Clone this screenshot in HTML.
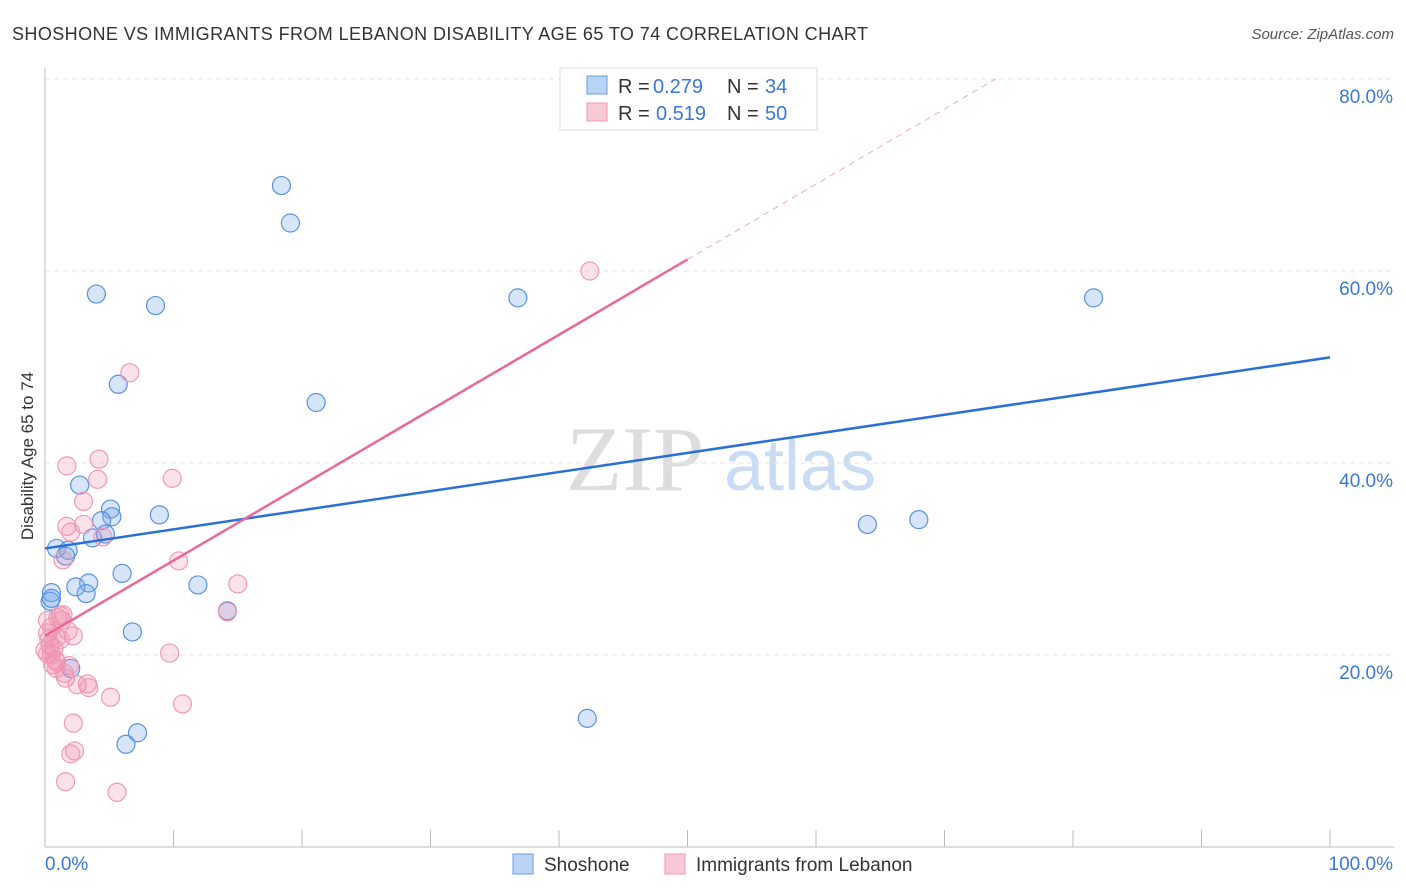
<!DOCTYPE html>
<html><head><meta charset="utf-8"><style>
body{margin:0;background:#fff;font-family:"Liberation Sans",sans-serif}
svg{display:block}
</style></head><body>
<svg width="1406" height="892" xmlns="http://www.w3.org/2000/svg" font-family="Liberation Sans, sans-serif">
<text x="12" y="40" font-size="18" fill="#333" textLength="856">SHOSHONE VS IMMIGRANTS FROM LEBANON DISABILITY AGE 65 TO 74 CORRELATION CHART</text>
<text x="1394" y="39" font-size="15" fill="#555" font-style="italic" text-anchor="end">Source: ZipAtlas.com</text>
<g>
<text x="635" y="490" font-size="92" fill="#ddd" font-family="Liberation Serif, serif" text-anchor="middle">ZIP</text>
<text x="800" y="490" font-size="72" fill="#c9dcf3" text-anchor="middle">atlas</text>
</g>
<g id="grid"></g>
<g id="axes"></g>
<g id="marks"></g>
<text transform="translate(33,456) rotate(-90)" font-size="17" fill="#333" text-anchor="middle">Disability Age 65 to 74</text>
<g>
<rect x="560" y="68" width="257" height="62" fill="#fff" stroke="#ddd"/>
<rect x="587" y="76" width="20" height="18" fill="#b8d3f5" stroke="#6b9ee0"/>
<rect x="587" y="103" width="20" height="18" fill="#f9c9d7" stroke="#ee9ab4"/>
<text x="618" y="93" font-size="20" fill="#333">R =</text>
<text x="653" y="93" font-size="20" fill="#3a78d4">0.279</text>
<text x="727" y="93" font-size="20" fill="#333">N =</text>
<text x="765" y="93" font-size="20" fill="#3a78d4">34</text>
<text x="618" y="120" font-size="20" fill="#333">R =</text>
<text x="656" y="120" font-size="20" fill="#3a78d4">0.519</text>
<text x="727" y="120" font-size="20" fill="#333">N =</text>
<text x="765" y="120" font-size="20" fill="#3a78d4">50</text>
</g>
<g>
<rect x="513" y="854" width="20" height="20" fill="#b8d3f5" stroke="#6b9ee0"/>
<text x="544" y="871" font-size="19" fill="#333">Shoshone</text>
<rect x="665" y="854" width="20" height="20" fill="#f9c9d7" stroke="#ee9ab4"/>
<text x="696" y="871" font-size="19" fill="#333">Immigrants from Lebanon</text>
</g>
</svg>
<script>
const shoX=[18.4,19.1,4.0,8.6,36.8,81.6,5.7,21.1,2.7,5.1,5.2,4.4,8.9,3.7,4.7,0.9,1.8,1.6,6.0,3.4,2.4,3.2,11.9,0.5,0.4,14.2,6.8,2.0,64.0,68.0,42.2,7.2,6.3,0.5];
const shoY=[68.9,65.0,57.6,56.4,57.2,57.2,48.2,46.3,37.7,35.2,34.4,34.0,34.6,32.2,32.6,31.1,30.9,30.3,28.5,27.5,27.1,26.4,27.3,26.5,25.6,24.6,22.4,18.6,33.6,34.1,13.4,11.9,10.7,25.9];
const lebX=[42.4,6.6,1.7,4.2,9.9,4.1,3.0,1.7,3.0,2.0,4.5,1.4,10.4,15.0,14.2,1.2,1.3,1.0,0.5,1.8,0.2,2.2,0.9,0.4,0.7,0.0,0.2,9.7,0.8,0.9,1.9,0.6,1.5,1.6,2.5,3.3,3.4,5.1,10.7,2.2,2.3,2.0,1.6,5.6,0.2,1.2,0.5,1.4,0.3,0.9];
const lebY=[60.0,49.4,39.7,40.4,38.4,38.3,36.0,33.4,33.6,32.8,32.3,29.9,29.8,27.4,24.5,24.1,23.6,23.9,22.9,22.5,22.3,22.0,21.8,21.0,20.7,20.5,20.1,20.2,19.5,19.3,18.9,19.0,18.1,17.6,16.9,17.0,16.6,15.6,14.9,12.9,10.0,9.7,6.8,5.7,23.6,21.6,20.0,24.2,21.6,18.6];
const yTicks=[20,40,60,80];
const yTickLabels=["20.0%","40.0%","60.0%","80.0%"];
const xTickLabels=["0.0%","100.0%"];
const shoTrend=[31.1,51.0];
const lebTrend=[22.0,0.784];
const X=v=>45+v*12.85, Y=v=>847-v*9.6;
const NS="http://www.w3.org/2000/svg";
function mk(t,a,p){const e=document.createElementNS(NS,t);for(const k in a)e.setAttribute(k,a[k]);p.appendChild(e);return e;}
const grid=document.getElementById('grid'),axes=document.getElementById('axes'),marks=document.getElementById('marks');
yTicks.forEach((t,i)=>{
 const l=mk('line',{x1:45,x2:1394,y1:Y(t),y2:Y(t),stroke:'#e6e6e6','stroke-dasharray':'5,4'},grid);
 
 
 const tx=mk('text',{x:1393,y:Y(t)+24,'font-size':19,fill:'#3a78d4','text-anchor':'end'},axes);
 tx.textContent=yTickLabels[i];
 
 
});
const al=mk('line',{x1:45,x2:45,y1:68,y2:847,stroke:'#bbb'},axes);


const bl=mk('line',{x1:45,x2:1394,y1:847,y2:847,stroke:'#bbb'},axes);


for(let i=0;i<=10;i++){
 const t=mk('line',{x1:X(i*10),x2:X(i*10),y1:830,y2:847,stroke:'#bbb'},axes);
 
 
}
[[0,'start',45],[1,'end',1393]].forEach(([i,a,x])=>{
 const t=mk('text',{x:x,y:870,'font-size':19,fill:'#3a78d4','text-anchor':a},axes);
 t.textContent=xTickLabels[i];
 
 
});
shoX.forEach((x,i)=>{
 const c=mk('circle',{cx:X(x),cy:Y(shoY[i]),r:9,fill:'rgba(120,170,235,0.3)',stroke:'#5b92dd','stroke-width':1.2},marks);
 
 
});
lebX.forEach((x,i)=>{
 const c=mk('circle',{cx:X(x),cy:Y(lebY[i]),r:9,fill:'rgba(240,140,170,0.25)',stroke:'#ef9ab5','stroke-width':1.2},marks);
 
 
});
const st=mk('line',{x1:X(0),y1:Y(shoTrend[0]),x2:X(100),y2:Y(shoTrend[1]),stroke:'#2a6fd6','stroke-width':2.5},marks);


const xe=50, xd=(80-lebTrend[0])/lebTrend[1];
const lt=mk('line',{x1:X(0),y1:Y(lebTrend[0]),x2:X(xe),y2:Y(lebTrend[0]+lebTrend[1]*xe),stroke:'#e8689a','stroke-width':2.5},marks);


const ld=mk('line',{x1:X(xe),y1:Y(lebTrend[0]+lebTrend[1]*xe),x2:X(xd),y2:Y(80),stroke:'#f0a8c0','stroke-width':1,'stroke-dasharray':'6,5'},marks);


</script>
</body></html>
